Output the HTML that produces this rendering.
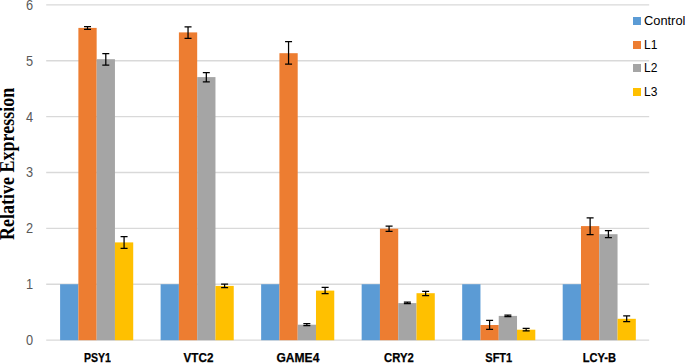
<!DOCTYPE html>
<html><head><meta charset="utf-8"><style>
html,body{margin:0;padding:0;background:#fff;}
body{width:685px;height:363px;position:relative;overflow:hidden;font-family:"Liberation Sans",sans-serif;}
svg{position:absolute;left:0;top:0;}
.yl{position:absolute;left:13.1px;width:20px;text-align:right;transform:scaleX(0.9);transform-origin:100% 50%;font-size:14.2px;line-height:15px;color:#595959;}
.cl{position:absolute;top:350px;width:80px;text-align:center;font-weight:bold;font-size:12.9px;line-height:15px;color:#000;-webkit-text-stroke:0.25px #000;;} .cl span{display:inline-block;}
.ls{position:absolute;left:633px;width:8px;height:8px;}
.lt{position:absolute;left:644px;font-size:12px;line-height:15px;color:#000;white-space:nowrap;}
.ax{position:absolute;left:-73px;top:158.4px;width:160px;height:20px;font-family:"Liberation Serif",serif;font-weight:bold;font-size:20px;line-height:20px;text-align:center;transform:rotate(-90deg) scaleX(0.9);white-space:nowrap;color:#000;}
</style></head><body>
<svg width="685" height="363" viewBox="0 0 685 363">
<line x1="46.2" y1="340.10" x2="649.2" y2="340.10" stroke="#D9D9D9" stroke-width="1.3"/>
<line x1="46.2" y1="284.23" x2="649.2" y2="284.23" stroke="#D9D9D9" stroke-width="1.3"/>
<line x1="46.2" y1="228.36" x2="649.2" y2="228.36" stroke="#D9D9D9" stroke-width="1.3"/>
<line x1="46.2" y1="172.49" x2="649.2" y2="172.49" stroke="#D9D9D9" stroke-width="1.3"/>
<line x1="46.2" y1="116.62" x2="649.2" y2="116.62" stroke="#D9D9D9" stroke-width="1.3"/>
<line x1="46.2" y1="60.75" x2="649.2" y2="60.75" stroke="#D9D9D9" stroke-width="1.3"/>
<line x1="46.2" y1="4.88" x2="649.2" y2="4.88" stroke="#D9D9D9" stroke-width="1.3"/>
<rect x="60.10" y="284.23" width="18.28" height="55.97" fill="#5B9BD5"/>
<rect x="78.38" y="27.90" width="18.28" height="312.30" fill="#ED7D31"/>
<rect x="96.66" y="59.20" width="18.28" height="281.00" fill="#A5A5A5"/>
<rect x="114.94" y="242.40" width="18.28" height="97.80" fill="#FFC000"/>
<rect x="160.62" y="284.23" width="18.28" height="55.97" fill="#5B9BD5"/>
<rect x="178.90" y="32.40" width="18.28" height="307.80" fill="#ED7D31"/>
<rect x="197.18" y="77.10" width="18.28" height="263.10" fill="#A5A5A5"/>
<rect x="215.46" y="285.90" width="18.28" height="54.30" fill="#FFC000"/>
<rect x="261.14" y="284.23" width="18.28" height="55.97" fill="#5B9BD5"/>
<rect x="279.42" y="53.20" width="18.28" height="287.00" fill="#ED7D31"/>
<rect x="297.70" y="324.70" width="18.28" height="15.50" fill="#A5A5A5"/>
<rect x="315.98" y="290.60" width="18.28" height="49.60" fill="#FFC000"/>
<rect x="361.66" y="284.23" width="18.28" height="55.97" fill="#5B9BD5"/>
<rect x="379.94" y="228.70" width="18.28" height="111.50" fill="#ED7D31"/>
<rect x="398.22" y="303.10" width="18.28" height="37.10" fill="#A5A5A5"/>
<rect x="416.50" y="293.20" width="18.28" height="47.00" fill="#FFC000"/>
<rect x="462.18" y="284.23" width="18.28" height="55.97" fill="#5B9BD5"/>
<rect x="480.46" y="325.00" width="18.28" height="15.20" fill="#ED7D31"/>
<rect x="498.74" y="315.90" width="18.28" height="24.30" fill="#A5A5A5"/>
<rect x="517.02" y="329.70" width="18.28" height="10.50" fill="#FFC000"/>
<rect x="562.70" y="284.23" width="18.28" height="55.97" fill="#5B9BD5"/>
<rect x="580.98" y="226.10" width="18.28" height="114.10" fill="#ED7D31"/>
<rect x="599.26" y="234.20" width="18.28" height="106.00" fill="#A5A5A5"/>
<rect x="617.54" y="318.80" width="18.28" height="21.40" fill="#FFC000"/>
<path d="M84.02 26.50H91.02M87.52 26.50V29.40M84.02 29.40H91.02" stroke="#000" stroke-width="1.25" fill="none"/>
<path d="M102.30 53.50H109.30M105.80 53.50V65.10M102.30 65.10H109.30" stroke="#000" stroke-width="1.25" fill="none"/>
<path d="M120.58 236.60H127.58M124.08 236.60V248.30M120.58 248.30H127.58" stroke="#000" stroke-width="1.25" fill="none"/>
<path d="M184.54 26.80H191.54M188.04 26.80V38.30M184.54 38.30H191.54" stroke="#000" stroke-width="1.25" fill="none"/>
<path d="M202.82 72.50H209.82M206.32 72.50V81.80M202.82 81.80H209.82" stroke="#000" stroke-width="1.25" fill="none"/>
<path d="M221.10 284.00H228.10M224.60 284.00V287.60M221.10 287.60H228.10" stroke="#000" stroke-width="1.25" fill="none"/>
<path d="M285.06 41.70H292.06M288.56 41.70V64.20M285.06 64.20H292.06" stroke="#000" stroke-width="1.25" fill="none"/>
<path d="M303.34 323.60H310.34M306.84 323.60V325.50M303.34 325.50H310.34" stroke="#000" stroke-width="1.25" fill="none"/>
<path d="M321.62 287.30H328.62M325.12 287.30V293.60M321.62 293.60H328.62" stroke="#000" stroke-width="1.25" fill="none"/>
<path d="M385.58 226.00H392.58M389.08 226.00V231.40M385.58 231.40H392.58" stroke="#000" stroke-width="1.25" fill="none"/>
<path d="M403.86 302.00H410.86M407.36 302.00V303.70M403.86 303.70H410.86" stroke="#000" stroke-width="1.25" fill="none"/>
<path d="M422.14 291.40H429.14M425.64 291.40V295.50M422.14 295.50H429.14" stroke="#000" stroke-width="1.25" fill="none"/>
<path d="M486.10 320.40H493.10M489.60 320.40V329.30M486.10 329.30H493.10" stroke="#000" stroke-width="1.25" fill="none"/>
<path d="M504.38 315.20H511.38M507.88 315.20V316.60M504.38 316.60H511.38" stroke="#000" stroke-width="1.25" fill="none"/>
<path d="M522.66 328.30H529.66M526.16 328.30V330.90M522.66 330.90H529.66" stroke="#000" stroke-width="1.25" fill="none"/>
<path d="M586.62 217.90H593.62M590.12 217.90V234.50M586.62 234.50H593.62" stroke="#000" stroke-width="1.25" fill="none"/>
<path d="M604.90 230.60H611.90M608.40 230.60V237.50M604.90 237.50H611.90" stroke="#000" stroke-width="1.25" fill="none"/>
<path d="M623.18 315.80H630.18M626.68 315.80V321.50M623.18 321.50H630.18" stroke="#000" stroke-width="1.25" fill="none"/>
</svg>
<div class="yl" style="top:333.00px">0</div><div class="yl" style="top:277.13px">1</div><div class="yl" style="top:221.26px">2</div><div class="yl" style="top:165.39px">3</div><div class="yl" style="top:109.52px">4</div><div class="yl" style="top:53.65px">5</div><div class="yl" style="top:-2.22px">6</div>
<div class="cl" style="left:57.46px"><span style="transform:scaleX(0.817)">PSY1</span></div><div class="cl" style="left:158.08px"><span style="transform:scaleX(0.905)">VTC2</span></div><div class="cl" style="left:257.80px"><span style="transform:scaleX(0.935)">GAME4</span></div><div class="cl" style="left:358.72px"><span style="transform:scaleX(0.876)">CRY2</span></div><div class="cl" style="left:458.74px"><span style="transform:scaleX(0.855)">SFT1</span></div><div class="cl" style="left:559.46px"><span style="transform:scaleX(0.863)">LCY-B</span></div>
<div class="ls" style="top:16.70px;background:#5B9BD5"></div><div class="lt" style="top:13.70px;transform:scaleX(1.07);transform-origin:0 0">Control</div><div class="ls" style="top:40.50px;background:#ED7D31"></div><div class="lt" style="top:37.50px">L1</div><div class="ls" style="top:64.30px;background:#A5A5A5"></div><div class="lt" style="top:61.30px">L2</div><div class="ls" style="top:88.10px;background:#FFC000"></div><div class="lt" style="top:85.10px">L3</div>
<div class="ax">Relative Expression</div>
</body></html>
